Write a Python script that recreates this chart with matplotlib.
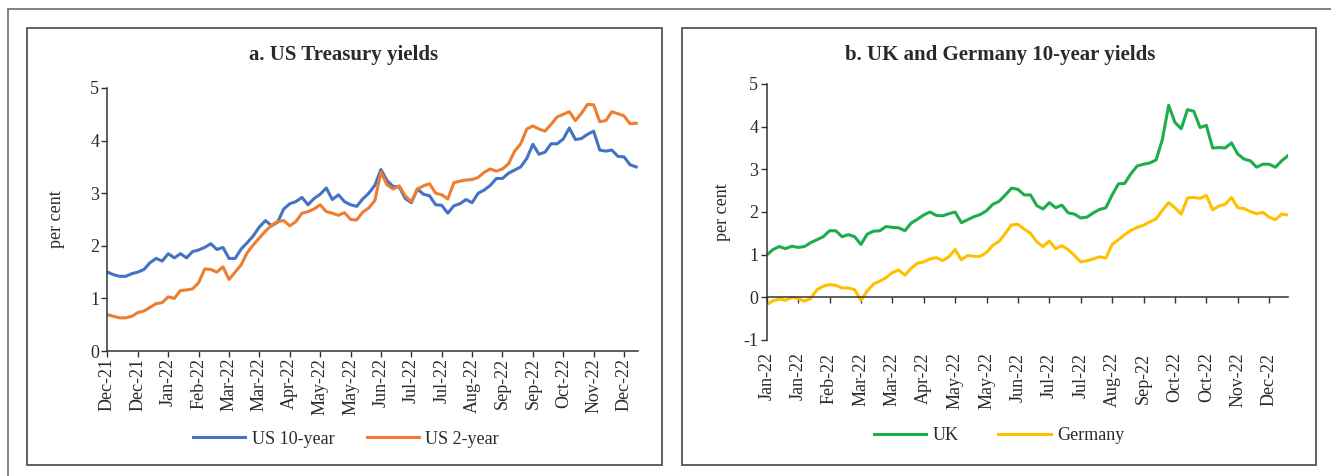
import numpy as np
import matplotlib.pyplot as plt
from matplotlib.patches import Rectangle
from matplotlib.lines import Line2D

plt.rcParams['font.family'] = ['Liberation Serif', 'DejaVu Serif']
plt.rcParams['axes.unicode_minus'] = False

# panel a: tick labels and series (values sampled every 0.2 of a tick interval)
us_labels = ["Dec-21", "Dec-21", "Jan-22", "Feb-22", "Mar-22", "Mar-22", "Apr-22",
             "May-22", "May-22", "Jun-22", "Jul-22", "Jul-22", "Aug-22", "Sep-22",
             "Sep-22", "Oct-22", "Nov-22", "Dec-22"]
us10 = [1.50, 1.45, 1.42, 1.42, 1.47, 1.50, 1.55, 1.68, 1.76, 1.71,
        1.85, 1.77, 1.85, 1.77, 1.89, 1.92, 1.97, 2.04, 1.93, 1.97,
        1.76, 1.76, 1.94, 2.06, 2.19, 2.36, 2.48, 2.38, 2.45, 2.70,
        2.80, 2.84, 2.92, 2.78, 2.90, 2.98, 3.10, 2.88, 2.97, 2.84,
        2.78, 2.75, 2.89, 3.00, 3.15, 3.45, 3.24, 3.13, 3.12, 2.90,
        2.82, 3.08, 2.98, 2.95, 2.78, 2.77, 2.62, 2.76, 2.80, 2.88,
        2.82, 3.00, 3.06, 3.15, 3.28, 3.28, 3.38, 3.44, 3.50, 3.66,
        3.93, 3.74, 3.78, 3.94, 3.94, 4.03, 4.24, 4.02, 4.04, 4.12,
        4.18, 3.82, 3.80, 3.82, 3.70, 3.69, 3.54, 3.50]
us2 = [0.69, 0.66, 0.63, 0.63, 0.66, 0.73, 0.76, 0.83, 0.90, 0.92,
       1.03, 1.00, 1.15, 1.16, 1.18, 1.30, 1.56, 1.55, 1.50, 1.60,
       1.36, 1.50, 1.64, 1.87, 2.02, 2.15, 2.28, 2.39, 2.46, 2.48,
       2.38, 2.46, 2.62, 2.65, 2.70, 2.78, 2.65, 2.62, 2.58, 2.63,
       2.50, 2.49, 2.64, 2.72, 2.86, 3.40, 3.16, 3.08, 3.14, 2.95,
       2.84, 3.08, 3.14, 3.18, 3.00, 2.97, 2.89, 3.20, 3.23, 3.25,
       3.26, 3.30, 3.40, 3.46, 3.42, 3.46, 3.56, 3.80, 3.94, 4.22,
       4.28, 4.22, 4.18, 4.31, 4.45, 4.50, 4.55, 4.38, 4.52, 4.69,
       4.68, 4.36, 4.38, 4.55, 4.51, 4.47, 4.32, 4.33]

# panel b
eu_labels = ["Jan-22", "Jan-22", "Feb-22", "Mar-22", "Mar-22", "Apr-22", "May-22",
             "May-22", "Jun-22", "Jul-22", "Jul-22", "Aug-22", "Sep-22", "Oct-22",
             "Oct-22", "Nov-22", "Dec-22"]
uk10 = [0.99, 1.12, 1.19, 1.14, 1.20, 1.17, 1.19, 1.28, 1.35, 1.42,
        1.56, 1.56, 1.42, 1.47, 1.42, 1.24, 1.48, 1.55, 1.56, 1.66,
        1.64, 1.63, 1.56, 1.74, 1.83, 1.93, 2.00, 1.92, 1.91, 1.96,
        2.00, 1.75, 1.82, 1.89, 1.94, 2.03, 2.18, 2.25, 2.40, 2.56,
        2.53, 2.40, 2.40, 2.15, 2.07, 2.22, 2.10, 2.16, 1.98, 1.95,
        1.86, 1.88, 1.98, 2.06, 2.10, 2.40, 2.66, 2.67, 2.90, 3.08,
        3.12, 3.15, 3.22, 3.70, 4.50, 4.10, 3.95, 4.40, 4.36, 3.98,
        4.03, 3.50, 3.51, 3.50, 3.62, 3.36, 3.24, 3.20, 3.05, 3.12,
        3.12, 3.05, 3.20, 3.32]
de10 = [-0.17, -0.08, -0.04, -0.07, 0.00, -0.03, -0.09, -0.03, 0.18, 0.26,
        0.30, 0.28, 0.22, 0.22, 0.18, -0.07, 0.15, 0.31, 0.38, 0.46,
        0.58, 0.64, 0.52, 0.68, 0.80, 0.83, 0.90, 0.93, 0.86, 0.95,
        1.12, 0.88, 0.98, 0.96, 0.96, 1.05, 1.22, 1.31, 1.50, 1.70,
        1.71, 1.60, 1.50, 1.30, 1.19, 1.32, 1.14, 1.21, 1.12, 0.98,
        0.83, 0.86, 0.90, 0.95, 0.92, 1.24, 1.35, 1.47, 1.57, 1.64,
        1.69, 1.77, 1.84, 2.04, 2.22, 2.10, 1.95, 2.33, 2.34, 2.32,
        2.39, 2.05, 2.14, 2.18, 2.34, 2.10, 2.08, 2.01, 1.96, 1.99,
        1.88, 1.82, 1.95, 1.93]

STEP = 0.2
W, H = 1331, 476
TXT = '#2a2a2a'


def fx(px):
    return px / W


def fy(py):
    return 1 - py / H


fig = plt.figure(figsize=(W / 100, H / 100), dpi=100)

# outer frame and panel boxes
fig.add_artist(Line2D([fx(8), 1], [fy(9), fy(9)], color='#777777', lw=1.3))
fig.add_artist(Line2D([fx(8), fx(8)], [0, fy(9)], color='#777777', lw=1.3))
for x0, x1 in [(27, 662), (682, 1316)]:
    fig.add_artist(Rectangle((fx(x0), fy(465)), fx(x1) - fx(x0), fy(28) - fy(465),
                             fill=False, ec='#555555', lw=1.3,
                             transform=fig.transFigure))


def style(ax):
    for s in ['top', 'right']:
        ax.spines[s].set_visible(False)
    for s in ['left', 'bottom']:
        ax.spines[s].set_linewidth(1.1)
        ax.spines[s].set_color('#333333')
    ax.tick_params(axis='y', length=4, width=1, color='#333333', labelsize=13,
                   labelcolor=TXT, pad=2)
    ax.tick_params(axis='x', length=4, width=1, color='#333333', labelsize=13,
                   labelcolor=TXT, pad=1)


# panel a
ax1 = fig.add_axes([fx(107.5), fy(351), fx(638) - fx(107.5), fy(88) - fy(351)])
x_us = np.arange(len(us10)) * STEP
ax1.plot(x_us, us10, color='#4472C4', lw=2.2, label='US 10-year')
ax1.plot(x_us, us2, color='#ED7D31', lw=2.2, label='US 2-year')
ax1.set_xlim(0, 17.46)
ax1.set_ylim(0, 5)
ax1.set_yticks(range(0, 6))
ax1.set_xticks(range(len(us_labels)))
ax1.set_xticklabels(us_labels, rotation=90)
style(ax1)
ax1.set_ylabel('per cent', fontsize=13, color=TXT, labelpad=18)
fig.text(fx(344), fy(55), 'a. US Treasury yields', ha='center', va='center',
         fontsize=15, fontweight='bold', color=TXT)
fig.legend(*ax1.get_legend_handles_labels(), loc='center', ncol=2,
           bbox_to_anchor=(fx(346), fy(439)), frameon=False, fontsize=13,
           handlelength=2.9, handletextpad=0.35, columnspacing=1.8,
           labelcolor=TXT)

# panel b
ax2 = fig.add_axes([fx(766.7), fy(340), fx(1288) - fx(766.7), fy(84) - fy(340)])
x_eu = np.arange(len(uk10)) * STEP
ax2.plot(x_eu, uk10, color='#1EAD4B', lw=2.2, label='UK')
ax2.plot(x_eu, de10, color='#FFC000', lw=2.2, label='Germany')
ax2.set_xlim(0, 16.6)
ax2.set_ylim(-1, 5)
ax2.set_yticks(range(-1, 6))
ax2.set_xticks(range(len(eu_labels)))
ax2.spines['bottom'].set_position(('data', 0))
style(ax2)
ax2.tick_params(axis='x', labelbottom=False)
sec = ax2.secondary_xaxis('bottom')
sec.set_xticks(range(len(eu_labels)))
sec.set_xticklabels(eu_labels, rotation=90)
sec.spines['bottom'].set_visible(False)
sec.tick_params(axis='x', length=0, labelsize=13, labelcolor=TXT, pad=9)
ax2.set_ylabel('per cent', fontsize=13, color=TXT, labelpad=9)
fig.text(fx(1000), fy(55), 'b. UK and Germany 10-year yields', ha='center',
         va='center', fontsize=15, fontweight='bold', color=TXT)
fig.legend(*ax2.get_legend_handles_labels(), loc='center', ncol=2,
           bbox_to_anchor=(fx(999), fy(436)), frameon=False, fontsize=13,
           handlelength=2.9, handletextpad=0.35, columnspacing=2.2,
           labelcolor=TXT)

fig.savefig('out.png', dpi=100)
